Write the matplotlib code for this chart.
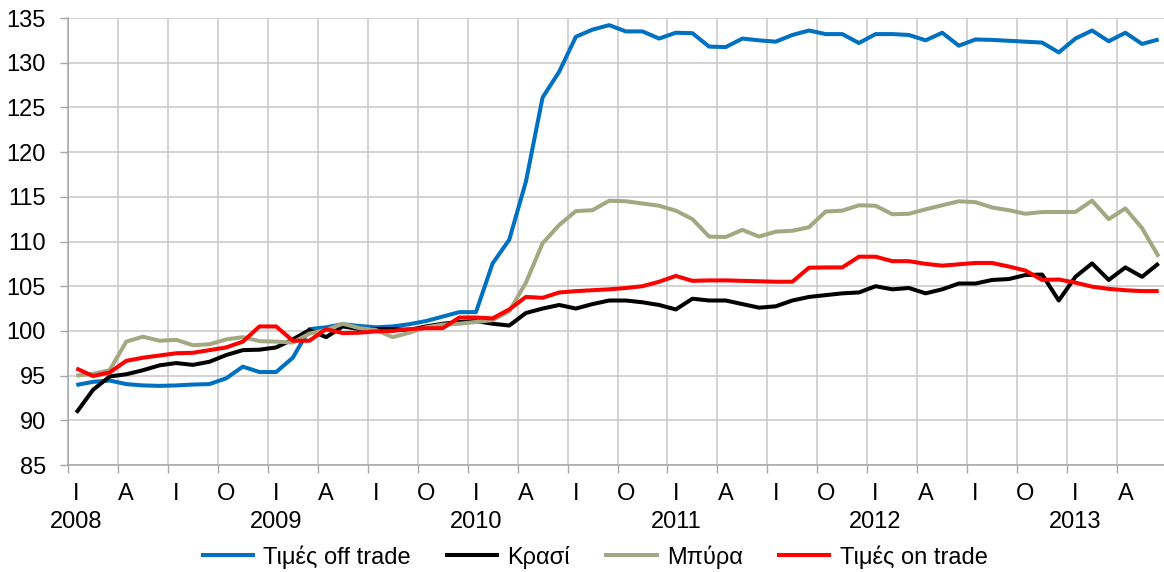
import matplotlib
matplotlib.use("Agg")
import matplotlib.pyplot as plt
import numpy as np

plt.rcParams['font.family'] = ['Liberation Sans', 'DejaVu Sans']

# ---- data (monthly, Jan 2008 - Jun 2013) ----
month_letters = ['Ι', 'Α', 'Ι', 'Ο']
years = ['2008', '2009', '2010', '2011', '2012', '2013']

off_trade = [93.95, 94.3, 94.45, 94.05, 93.9, 93.85, 93.9, 94.0, 94.05, 94.7, 96.0, 95.4,
             95.4, 97.0, 100.2, 100.4, 100.75, 100.55, 100.4, 100.5, 100.75, 101.1, 101.6, 102.1,
             102.1, 107.55, 110.2, 116.7, 126.1, 129.0, 132.9, 133.7, 134.2, 133.5, 133.5, 132.7,
             133.35, 133.3, 131.8, 131.75, 132.7, 132.5, 132.35, 133.1, 133.6, 133.2, 133.2, 132.2,
             133.2, 133.2, 133.1, 132.5, 133.35, 131.9, 132.6, 132.55, 132.45, 132.35, 132.25, 131.15,
             132.7, 133.6, 132.4, 133.35, 132.1, 132.6]

wine = [90.85, 93.4, 94.9, 95.15, 95.6, 96.15, 96.4, 96.2, 96.55, 97.3, 97.85, 97.9,
        98.15, 99.05, 100.1, 99.3, 100.5, 100.2, 100.2, 100.2, 100.1, 100.5, 100.8, 101.0,
        101.1, 100.8, 100.6, 102.0, 102.5, 102.9, 102.5, 103.0, 103.4, 103.4, 103.2, 102.9,
        102.4, 103.6, 103.4, 103.4, 103.0, 102.6, 102.75, 103.4, 103.8, 104.0, 104.2, 104.3,
        105.0, 104.65, 104.8, 104.2, 104.65, 105.3, 105.3, 105.7, 105.8, 106.25, 106.3, 103.4,
        106.05, 107.55, 105.7, 107.1, 106.05, 107.55]

beer = [95.0, 95.2, 95.6, 98.8, 99.35, 98.9, 99.0, 98.4, 98.5, 99.05, 99.3, 98.85,
        98.8, 98.7, 99.7, 100.1, 100.8, 100.3, 100.1, 99.3, 99.8, 100.4, 100.7, 100.8,
        101.0, 101.2, 102.2, 105.4, 109.8, 111.85, 113.4, 113.5, 114.56, 114.5, 114.25, 114.0,
        113.45, 112.5, 110.55, 110.5, 111.3, 110.55, 111.1, 111.2, 111.6, 113.35, 113.45, 114.05,
        114.0, 113.05, 113.1, 113.6, 114.05, 114.5, 114.4, 113.8, 113.5, 113.1, 113.3, 113.3,
        113.3, 114.57, 112.5, 113.7, 111.5, 108.3]

on_trade = [95.8, 94.95, 95.35, 96.65, 97.0, 97.25, 97.5, 97.55, 97.85, 98.15, 98.8, 100.5,
            100.5, 98.9, 98.9, 100.2, 99.75, 99.8, 99.95, 100.0, 100.2, 100.3, 100.3, 101.5,
            101.5, 101.4, 102.4, 103.8, 103.7, 104.3, 104.45, 104.55, 104.65, 104.8, 105.0, 105.5,
            106.15, 105.6, 105.65, 105.65, 105.6, 105.55, 105.5, 105.5, 107.07, 107.1, 107.1, 108.3,
            108.3, 107.8, 107.8, 107.5, 107.3, 107.45, 107.6, 107.6, 107.2, 106.75, 105.7, 105.75,
            105.4, 104.95, 104.7, 104.55, 104.45, 104.45]

series_names = ['Τιμές off trade', 'Κρασί', 'Μπύρα', 'Τιμές on trade']
series_colors = ['#0070C0', '#000000', '#A4A882', '#FF0000']

# ---- figure ----
W, H = 1164, 572
fig = plt.figure(figsize=(W / 100, H / 100), dpi=100)
ax = fig.add_axes([68 / W, 107 / H, 1099 / W, 447 / H])

FS = 17

n = len(off_trade)
x = np.arange(n)
handles = []
for data, name, col in zip([off_trade, wine, beer, on_trade], series_names, series_colors):
    h, = ax.plot(x, data, color=col, lw=2.9, label=name, solid_joinstyle='round',
                 solid_capstyle='butt', zorder=3)
    handles.append(h)

ax.set_xlim(-0.5, n - 0.5)
ax.set_ylim(85, 135)

# y axis
ax.set_yticks(np.arange(85, 136, 5))
ax.tick_params(axis='y', which='major', length=6, width=1.0, color='#a6a6a6',
               pad=10, labelsize=FS, labelcolor='black')

# x axis: boundary ticks (major) + centered labels (minor)
major_pos = np.arange(-0.5, n - 0.5 + 0.01, 3)
ax.set_xticks(major_pos)
ax.set_xticklabels([''] * len(major_pos))
minor_pos = np.arange(0, n, 3)
minor_labels = []
for k, p in enumerate(minor_pos):
    lab = month_letters[k % 4]
    if k % 4 == 0:
        lab = lab + '\n' + years[k // 4]
    minor_labels.append(lab)
ax.set_xticks(minor_pos, minor=True)
ax.set_xticklabels(minor_labels, minor=True)
ax.tick_params(axis='x', which='major', length=6, width=1.0, color='#a6a6a6')
ax.tick_params(axis='x', which='minor', length=0, pad=13, labelsize=FS, labelcolor='black')
for t in ax.get_xticklabels(minor=True):
    t.set_linespacing(1.35)

# grid
ax.set_axisbelow(True)
ax.grid(True, which='major', axis='both', color='#c8c8c8', lw=1.1)
ax.grid(False, which='minor')

for s in ['top', 'right']:
    ax.spines[s].set_visible(False)
for s in ['left', 'bottom']:
    ax.spines[s].set_color('#a6a6a6')
    ax.spines[s].set_linewidth(1.1)

fig.legend(handles, series_names, loc='center', bbox_to_anchor=(594 / W, 1 - 557 / H),
           ncol=4, frameon=False, fontsize=FS, handlelength=2.3, handletextpad=0.35,
           columnspacing=1.45, borderpad=0, borderaxespad=0)

fig.savefig('out.png', dpi=100)
